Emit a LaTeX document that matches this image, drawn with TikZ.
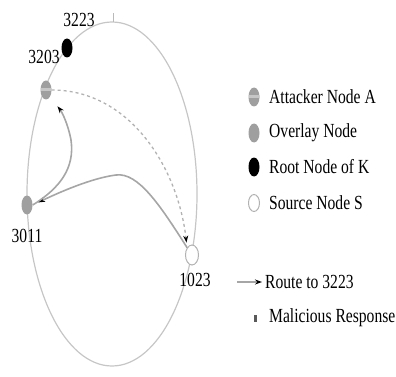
\documentclass[tikz,border=0pt]{standalone}
\usepackage{fontspec}
\setmainfont{Liberation Serif}
\usetikzlibrary{arrows.meta,shapes.geometric}
\newcommand{\cn}[1]{\scalebox{0.78}[1]{#1}}
\tikzset{
  ring/.style={draw=gray!45, line width=1.2pt},
  overlay/.style={ellipse, draw=none, fill=gray!75, minimum width=11pt, minimum height=19pt, inner sep=0pt},
  attacker/.style={ellipse, draw=none, fill=gray!75, minimum width=11pt, minimum height=19pt, inner sep=0pt, path picture={\fill[gray!45] ([yshift=-1.5pt]path picture bounding box.west) rectangle ([yshift=1.5pt]path picture bounding box.east);}},
  rootk/.style={ellipse, draw=none, fill=black, minimum width=11pt, minimum height=19pt, inner sep=0pt},
  source/.style={ellipse, draw=gray!60, line width=1pt, fill=white, minimum width=13pt, minimum height=20pt, inner sep=0pt},
  lbl/.style={font=\fontsize{20}{20}\selectfont, inner sep=0pt},
  route/.style={draw=gray!70, line width=1.6pt},
  tipk/.style={-{Stealth[length=7pt,width=5pt,black]}},
  malic/.style={draw=gray!60, line width=1.3pt, dash pattern=on 3pt off 3pt},
}
\begin{document}
\begin{tikzpicture}[x=1pt,y=-1pt]
\useasboundingbox (0,0) rectangle (396,377);
% ring
\draw[ring] (112,194) ellipse [x radius=85, y radius=172];
\coordinate (tb) at (113,22);
\coordinate (tt) at (113,13);
\draw[gray!55, line width=0.8pt] (tb) -- (tt);
% nodes
\node[rootk] (n3223) at (67,48) {};
\node[attacker] (n3203) at (46,90) {};
\node[overlay] (n3011) at (27,205) {};
\node[source] (n1023) at (192,255) {};
\node[lbl] (l3223) at (79,20) {\cn{3223}};
\node[lbl] (l3203) at (44,57) {\cn{3203}};
\node[lbl] (l3011) at (27,236) {\cn{3011}};
\node[lbl] (l1023) at (195,280) {\cn{1023}};
% malicious response (dashed)
\draw[malic, tipk, shorten >=5pt] (n3203.east) .. controls (130,90) and (178,168) .. (n1023.north west);
% route 1023 -> 3011
\draw[route, tipk, shorten >=6pt] (n1023.north west) .. controls (160,205) and (138,172) .. (116,175) .. controls (92,178) and (60,192) .. (n3011.east);
% route 3011 -> 3203
\draw[route, tipk, shorten >=12pt] (n3011.east) .. controls (60,188) and (75,168) .. (71,140) .. controls (68,124) and (62,112) .. (n3203.south east);
% legend
\node[attacker] (k1) at (254,97) {};
\node[overlay] (k2) at (254,133) {};
\node[rootk] (k3) at (254,167) {};
\node[source, minimum width=11pt, minimum height=17pt] (k4) at (254,203) {};
\node[lbl, anchor=west] (t1) at (269,97) {\cn{Attacker Node A}};
\node[lbl, anchor=west] (t2) at (269,133) {\cn{Overlay Node}};
\node[lbl, anchor=west] (t3) at (269,167) {\cn{Root Node of K}};
\node[lbl, anchor=west] (t4) at (269,203) {\cn{Source Node S}};
\coordinate (a0) at (237,282);
\coordinate (a1) at (262,282);
\draw[route, tipk] (a0) -- (a1);
\node[lbl, anchor=west] (t5) at (265,282) {\cn{Route to 3223}};
\node[fill=gray!70!black, minimum width=3pt, minimum height=7pt, inner sep=0pt] (k6) at (255,318) {};
\node[lbl, anchor=west] (t6) at (269,318) {\cn{Malicious Response}};
\end{tikzpicture}
\end{document}
